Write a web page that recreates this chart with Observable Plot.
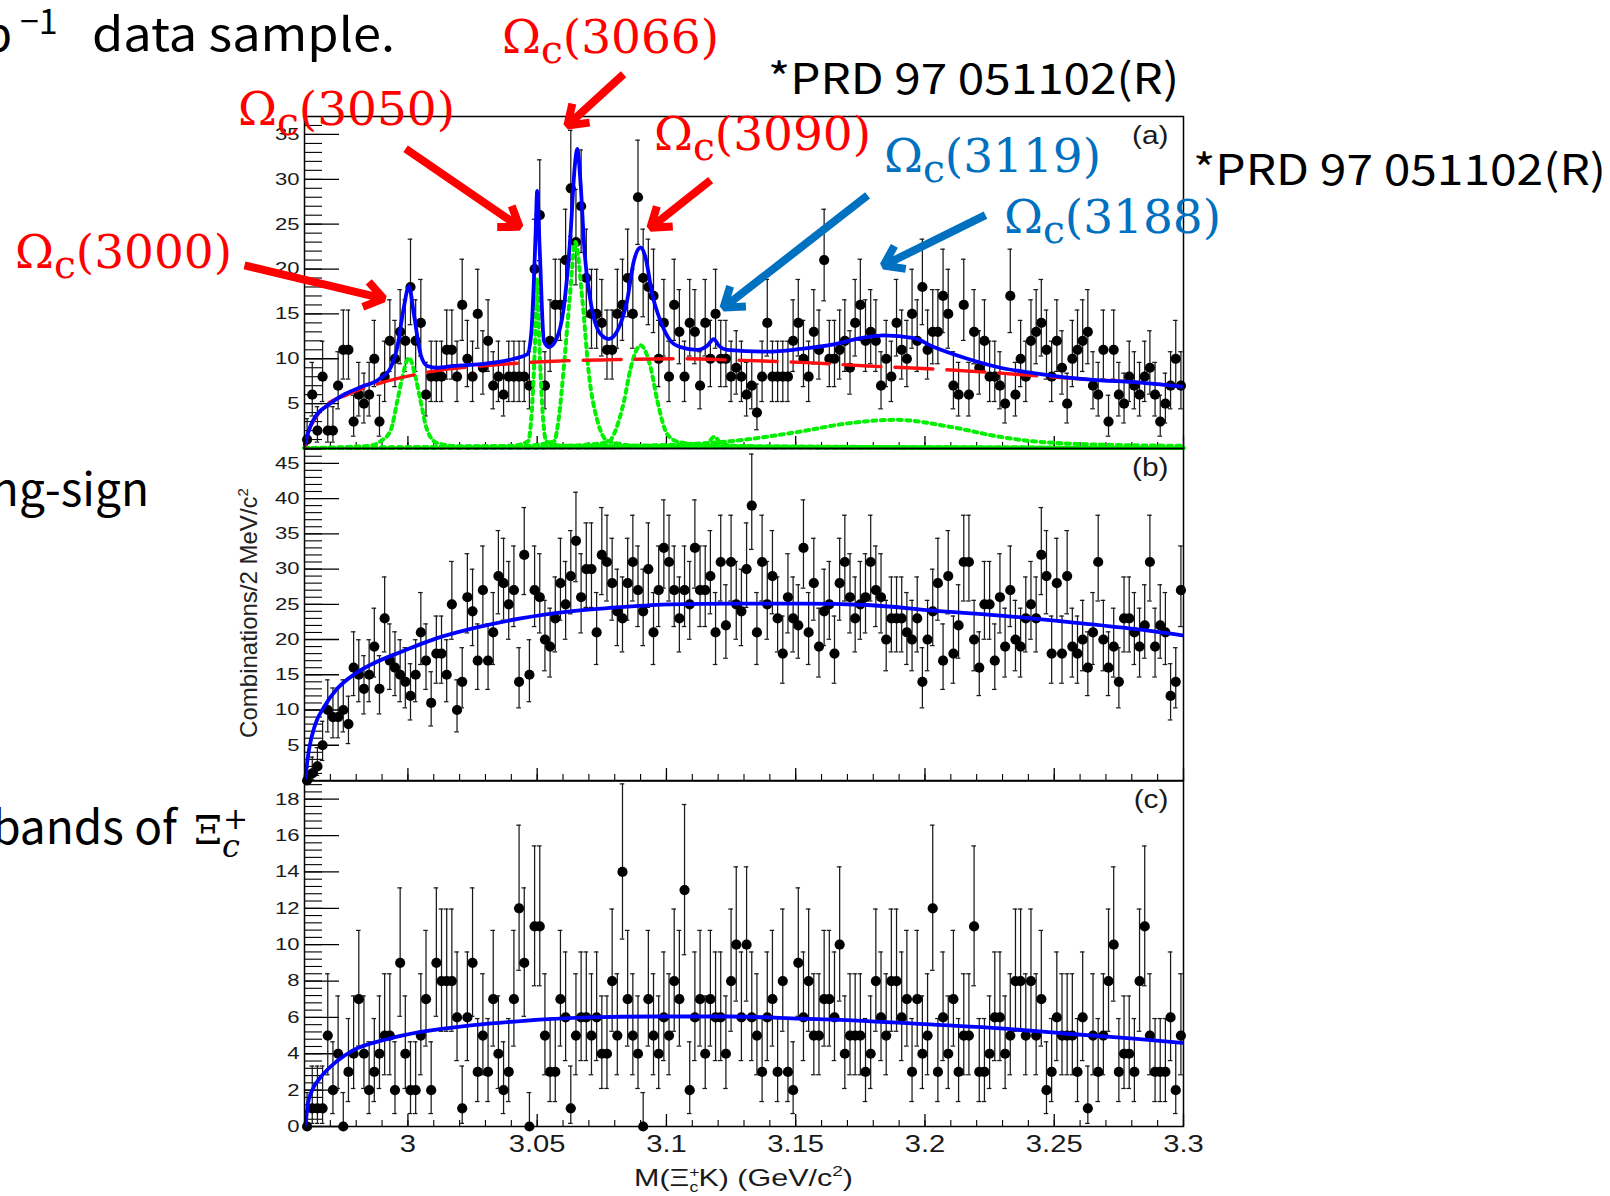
<!DOCTYPE html>
<html><head><meta charset="utf-8">
<script src="https://cdn.jsdelivr.net/npm/d3@7"></script>
<script src="https://cdn.jsdelivr.net/npm/@observablehq/plot@0.6"></script>
<style>
html,body{margin:0;padding:0;background:#fff;}
#wrap{position:relative;width:1610px;height:1196px;overflow:hidden;background:#fff;}
#wrap svg{position:absolute;left:0;}
</style></head>
<body><div id="wrap"></div>
<script>
// ---------- histogram binning ----------
const X0 = 2.96, BIN = 0.002;

// ---------- panel (a): right-sign M(Xi_c+ K-) ----------
const countsA = [
 1,6,2,8,2,2,7,11,11,3,
 6,5,6,10,3,8,12,10,13,12,
 18,12,14,6,8,8,8,11,11,8,
 16,10,8,15,9,12,7,8,6,8,
 8,8,8,7,20,26,7,12,16,16,
 21,29,23,27,19,15,15,14,11,11,
 15,16,19,15,28,19,18,17,10,14,
 8,16,13,8,14,13,7,14,10,15,
 10,10,8,9,8,6,7,4,8,14,
 8,8,8,8,12,14,10,8,13,11,
 21,10,10,11,12,9,14,16,12,13,
 12,7,10,8,14,11,10,15,12,18,
 11,13,13,17,15,7,6,16,6,13,
 9,12,8,8,7,5,17,6,10,8,
 12,13,14,11,8,12,9,5,10,11,
 12,13,7,6,11,3,11,6,5,8,
 7,6,8,9,6,3,5,7,10,7
];
// ---------- panel (b): wrong-sign ----------
const countsB = [
 0,1,2,5,10,9,9,10,8,16,
 15,13,15,19,13,23,17,16,15,14,
 12,15,21,17,11,18,18,15,25,10,
 14,26,24,17,27,17,21,29,28,25,
 27,14,32,15,27,26,20,19,23,28,
 25,29,34,26,30,30,21,32,31,28,
 24,23,28,31,27,24,30,21,27,33,
 31,27,23,27,25,33,27,27,29,21,
 31,22,31,25,24,30,39,21,31,25,
 29,23,18,26,23,22,33,21,28,19,
 24,25,18,28,31,26,23,25,26,31,
 27,26,20,23,23,23,21,20,23,14,
 20,24,28,17,29,18,22,31,31,20,
 16,25,25,17,26,19,27,20,19,23,
 25,23,32,29,18,28,18,29,19,18,
 20,16,21,31,20,16,19,14,23,23,
 21,19,22,31,19,22,21,12,14,27
];
// ---------- panel (c): Xi_c sidebands ----------
const countsC = [
 0,1,1,1,5,2,4,0,3,4,
 7,4,2,3,4,5,5,2,9,4,
 2,2,5,7,2,9,8,8,8,6,
 1,6,9,3,5,3,7,4,2,3,
 7,12,9,0,11,11,5,3,3,7,
 6,1,5,6,6,5,6,4,4,8,
 5,14,7,5,4,0,7,5,4,6,
 5,8,7,13,2,6,7,4,7,6,
 6,4,8,10,6,10,6,5,3,6,
 7,3,8,3,2,9,6,8,5,5,
 7,7,6,10,4,5,5,5,3,4,
 8,6,5,8,8,6,7,3,7,4,
 5,12,3,6,4,7,3,5,5,11,
 3,3,4,6,6,4,5,8,8,5,
 8,5,7,2,3,6,5,5,5,3,
 6,1,5,3,5,8,10,3,4,4,
 3,8,11,5,3,3,3,6,2,5
];

// ---------- fit curves: [mass GeV, combinations] ----------
const fitTotalA = [[2.9601,0.5],[2.9623,2.5],[2.9643,3.6],[2.9694,4.9],[2.9758,6.1],[2.9823,6.9],[2.9887,7.7],[2.9933,9.0],[2.9959,11.3],[2.9984,15.7],[3.0004,18.1],[3.0023,15.0],[3.0049,10.5],[3.0075,9.2],[3.0114,9.0],[3.0178,9.2],[3.0282,9.4],[3.041,10.0],[3.0462,10.5],[3.0477,12.8],[3.0494,23.9],[3.05,28.7],[3.051,22],[3.0526,12.0],[3.0545,11.3],[3.0571,12.0],[3.0603,15.7],[3.0629,23.9],[3.0645,31.3],[3.0655,33.4],[3.0668,29.5],[3.0683,22.0],[3.0706,16.5],[3.0745,12.75],[3.0777,12.2],[3.081,13.1],[3.0848,16.5],[3.0874,20.9],[3.09,22.4],[3.0919,21.3],[3.0945,17.2],[3.0977,14.2],[3.1016,12.0],[3.1055,11.3],[3.1119,11.0],[3.1158,11.45],[3.1183,12.2],[3.1203,11.45],[3.1235,11.0],[3.139,10.8],[3.1519,11.1],[3.1648,11.6],[3.1751,12.3],[3.1841,12.6],[3.1957,12.3],[3.2034,11.3],[3.2164,10.0],[3.2292,9.0],[3.2421,8.4],[3.255,7.9],[3.2679,7.6],[3.2808,7.4],[3.2995,6.9]];
const bkgA = [[2.9600,0.1],[2.9617,2.0],[2.9636,3.1],[2.9675,4.6],[2.9765,6.0],[2.9894,7.3],[3.0023,8.2],[3.0152,8.85],[3.0282,9.2],[3.054,9.7],[3.0797,9.9],[3.1055,10.0],[3.1261,9.85],[3.1519,9.6],[3.1777,9.2],[3.2034,8.85],[3.2292,8.4],[3.255,7.85],[3.2808,7.4],[3.2995,6.9]];
const sig3000 = [[2.96,0.05],[2.985,0.3],[2.9894,0.8],[2.9933,2],[2.9959,5.3],[2.9978,7.9],[3.0004,10.1],[3.003,7.9],[3.0049,5.3],[3.0075,2],[3.0114,0.6],[3.02,0.25],[3.3,0.05]];
const sig3050 = [[2.96,0.05],[3.04,0.3],[3.0465,0.8],[3.0481,5],[3.0492,12],[3.05,19],[3.0508,12],[3.0519,5],[3.0535,0.8],[3.06,0.3],[3.3,0.05]];
const sig3066 = [[2.96,0.05],[3.045,0.3],[3.0565,0.8],[3.0584,3.5],[3.0603,9],[3.0625,16.5],[3.0648,23],[3.0675,16.5],[3.07,8.3],[3.0733,3.1],[3.0775,0.8],[3.09,0.3],[3.3,0.05]];
const sig3090 = [[2.96,0.05],[3.06,0.3],[3.0775,0.7],[3.0797,1.6],[3.0836,5.3],[3.0862,9],[3.09,11.5],[3.0939,9],[3.0965,5.3],[3.1003,1.6],[3.105,0.7],[3.12,0.3],[3.3,0.05]];
const sig3119 = [[2.96,0.05],[3.10,0.15],[3.1155,0.5],[3.1185,1.3],[3.1215,0.5],[3.135,0.15],[3.3,0.05]];
const sig3188 = [[2.96,0.05],[3.06,0.2],[3.10,0.4],[3.126,0.85],[3.152,1.9],[3.17,2.8],[3.189,3.2],[3.21,2.4],[3.229,1.3],[3.242,0.8],[3.26,0.5],[3.30,0.3]];
const fitB = [[2.9603,0.3],[2.9617,4.3],[2.9642,8.0],[2.9675,10.4],[2.9726,13.0],[2.979,15.0],[2.9855,16.4],[2.9984,18.4],[3.0113,20.2],[3.0242,21.5],[3.0436,23.0],[3.0629,24.0],[3.0822,24.6],[3.1016,25.0],[3.1248,25.1],[3.1519,25.1],[3.1777,24.9],[3.2034,24.1],[3.2292,23.4],[3.255,22.5],[3.2808,21.5],[3.2995,20.6]];
const fitC = [[2.9604,0.05],[2.9613,1.25],[2.963,2.0],[2.9662,2.7],[2.9726,3.6],[2.979,4.2],[2.9919,4.8],[3.0049,5.2],[3.0242,5.56],[3.0436,5.8],[3.0694,6.0],[3.0951,6.05],[3.1248,6.05],[3.1519,5.93],[3.1777,5.8],[3.2034,5.6],[3.2292,5.4],[3.255,5.1],[3.2808,4.83],[3.2995,4.6]];

// ---------- ticks ----------
const xMajorTicks = [3, 3.05, 3.1, 3.15, 3.2, 3.25, 3.3];
const yLabelsA = [5, 10, 15, 20, 25, 30, 35];
const yLabelsB = [5, 10, 15, 20, 25, 30, 35, 40, 45];
const yLabelsC = [0, 2, 4, 6, 8, 10, 12, 14, 16, 18];

// ---------- annotations (state names, arrow tail -> tip in panel (a) data units) ----------
const annotations = [
  {state: "3000", color: "#ff0000", x1: 2.9368, y1: 20.4, x2: 2.9906, y2: 16.7},
  {state: "3050", color: "#ff0000", x1: 2.9991, y1: 33.4, x2: 3.0432, y2: 24.7},
  {state: "3066", color: "#ff0000", x1: 3.0834, y1: 41.7, x2: 3.0617, y2: 36.0},
  {state: "3090", color: "#ff0000", x1: 3.1171, y1: 29.9, x2: 3.0938, y2: 24.6},
  {state: "3119", color: "#0070c0", x1: 3.1778, y1: 28.2, x2: 3.1221, y2: 15.7},
  {state: "3188", color: "#0070c0", x1: 3.2234, y1: 26.0, x2: 3.1840, y2: 20.4}
];
const labelPos = {"3000": [15, 268], "3050": [238, 125], "3066": [502, 53], "3090": [654, 150], "3119": [884, 172], "3188": [1004, 233]};

// ---------- helpers ----------
const errLo = n => n <= 0 ? 0 : n * Math.pow(1 - 1 / (9 * n) - 1 / (3 * Math.sqrt(n)), 3);
const errHi = n => n + Math.sqrt(n + 0.75) + 1;
const toRows = counts => counts.map((n, i) => ({
  x: X0 + BIN * (i + 0.5), xa: X0 + BIN * i, xb: X0 + BIN * (i + 1), n, lo: errLo(n), hi: errHi(n)
}));
const W = 1610, ML = 304, MR = 427, innerW = W - ML - MR;
const FONT = "'Liberation Sans', Arial, Helvetica, sans-serif";
const xMinor = d3.range(0, 35).map(i => +(X0 + 0.01 * i).toFixed(3));
const wrap = document.getElementById("wrap");

// the reference's ROOT fonts are drawn horizontally wider than their height suggests
function widen(nodes, s) {
  nodes.forEach(t => {
    const x = parseFloat(t.getAttribute("x")) || 0;
    const tr = t.getAttribute("transform") || "";
    t.setAttribute("transform", `${tr} translate(${x},0) scale(${s},1) translate(${-x},0)`);
  });
}

function makePanel(cfg) {
  const innerH = cfg.height - cfg.mt - cfg.mb;
  const rows = toRows(cfg.counts);
  const line = (data, opts) => Plot.line(data, {x: d => d[0], y: d => d[1], curve: "monotone-x", ...opts});
  const marks = [
    Plot.tickY(cfg.yMinor, {y: d => d, insetRight: innerW - 18, stroke: "#000", strokeWidth: 1.1}),
    Plot.tickY(cfg.yLabels, {y: d => d, insetRight: innerW - 35, stroke: "#000", strokeWidth: 1.3}),
    Plot.tickX(xMinor, {x: d => d, insetTop: innerH - 6, stroke: "#000", strokeWidth: 1.1}),
    Plot.tickX(xMajorTicks, {x: d => d, insetTop: innerH - 12, stroke: "#000", strokeWidth: 1.3}),
    Plot.axisY(cfg.yLabels, {tickSize: 0, tickPadding: 5, fontSize: 17, label: null, tickFormat: d => String(d)}),
    Plot.ruleX(rows, {x: "x", y1: "lo", y2: "hi", stroke: "#1a1a1a", strokeWidth: 1.25}),
    Plot.ruleY(rows, {y: "hi", x1: "xa", x2: "xb", insetLeft: 0.3, insetRight: 0.3, stroke: "#1a1a1a", strokeWidth: 1.25}),
    Plot.ruleY(rows.filter(d => d.n > 0), {y: "lo", x1: "xa", x2: "xb", insetLeft: 0.3, insetRight: 0.3, stroke: "#1a1a1a", strokeWidth: 1.25}),
    Plot.dot(rows, {x: "x", y: "n", r: 5.1, fill: "#000", stroke: null}),
    ...(cfg.greens || []).map(g => line(g, {stroke: "#00f000", strokeWidth: 4, strokeDasharray: "4,4.5"})),
    ...(cfg.reds || []).map(g => line(g, {stroke: "#ff1010", strokeWidth: 3.4, strokeDasharray: "38,14"})),
    ...(cfg.blues || []).map(g => line(g, {stroke: "#0000ff", strokeWidth: 3.8})),
    Plot.frame({stroke: "#000", strokeWidth: 1.5}),
    Plot.text([cfg.tag], {frameAnchor: "top-right", dx: -15, dy: 9, lineAnchor: "top", textAnchor: "end", fontSize: 26, fill: "#1a1a1a"})
  ];
  if (cfg.xLabels) {
    marks.push(Plot.axisX(xMajorTicks, {tickSize: 0, tickPadding: 9, fontSize: 23, label: null, tickFormat: d => String(+d.toFixed(2))}));
  }
  if (cfg.extra) marks.push(...cfg.extra);
  const svg = Plot.plot({
    width: W, height: cfg.height,
    marginLeft: ML, marginRight: MR, marginTop: cfg.mt, marginBottom: cfg.mb,
    x: {domain: [2.96, 3.30], axis: cfg.xLabels ? undefined : null},
    y: {domain: [0, cfg.yMax]},
    style: {background: "none", overflow: "visible", fontFamily: FONT, color: "#1a1a1a"},
    marks
  });
  svg.style.top = cfg.top + "px";
  widen(svg.querySelectorAll('g[aria-label="y-axis tick label"] text'), 1.3);
  widen(svg.querySelectorAll('g[aria-label="x-axis tick label"] text'), 1.27);
  widen(svg.querySelectorAll('g[aria-label="text"] text'), 1.15);
  wrap.appendChild(svg);
}

// panel (a)
makePanel({
  counts: countsA, yMax: 37, top: 0, height: 460, mt: 116, mb: 12,
  yLabels: yLabelsA, yMinor: d3.range(1, 37), tag: "(a)",
  greens: [sig3000, sig3050, sig3066, sig3090, sig3119, sig3188],
  reds: [bkgA], blues: [fitTotalA],
  extra: [
    Plot.arrow(annotations, {x1: "x1", y1: "y1", x2: "x2", y2: "y2", stroke: "color", strokeWidth: 8, headLength: 4.2, headAngle: 70, strokeLinejoin: "miter", strokeLinecap: "butt"})
  ]
});
// panel (b)
makePanel({
  counts: countsB, yMax: 47.1, top: 438, height: 352, mt: 10, mb: 10,
  yLabels: yLabelsB, yMinor: d3.range(1, 48), tag: "(b)",
  blues: [fitB]
});
// panel (c)
makePanel({
  counts: countsC, yMax: 19, top: 770, height: 426, mt: 10.5, mb: 70,
  yLabels: yLabelsC, yMinor: d3.range(0, 48).map(i => +(0.4 * i).toFixed(1)), tag: "(c)",
  blues: [fitC], xLabels: true
});

// ---------- overlay text (titles, slide text, state labels) ----------
const ov = d3.select(wrap).append("svg").attr("width", W).attr("height", 1196)
  .style("top", "0px").style("pointer-events", "none");

// axis titles
const xt = ov.append("text").attr("transform", "translate(634,1186) scale(1.27,1)").attr("font-family", FONT).attr("font-size", 24).attr("fill", "#1a1a1a");
xt.append("tspan").text("M(Ξ");
xt.append("tspan").attr("dy", -9).attr("font-size", 14).text("+");
xt.append("tspan").attr("dx", -8).attr("dy", 15).attr("font-size", 14).text("c");
xt.append("tspan").attr("dy", -6).text("K) (GeV/c");
xt.append("tspan").attr("dy", -10).attr("font-size", 15).text("2");
xt.append("tspan").attr("dy", 10).text(")");

const yt = ov.append("text").attr("transform", "translate(257,613) rotate(-90)").attr("text-anchor", "middle")
  .attr("font-family", FONT).attr("font-size", 24).attr("fill", "#222");
yt.append("tspan").text("Combinations/2 MeV/c");
yt.append("tspan").attr("dy", -9).attr("font-size", 15).text("2");

// slide text
const SLIDE = "'Noto Sans CJK KR', 'Noto Sans', sans-serif";
ov.append("text").attr("x", 12).attr("y", 51).attr("text-anchor", "end").attr("font-family", SLIDE).attr("font-size", 46).text("b");
ov.append("text").attr("x", 20).attr("y", 34).attr("font-family", SLIDE).attr("font-size", 34).text("−1");
ov.append("text").attr("x", 92).attr("y", 51).attr("font-family", SLIDE).attr("font-size", 46)
  .attr("textLength", 303).attr("lengthAdjust", "spacingAndGlyphs").text("data sample.");
ov.append("text").attr("x", 768).attr("y", 94).attr("font-family", SLIDE).attr("font-size", 42)
  .attr("textLength", 411).attr("lengthAdjust", "spacingAndGlyphs").text("*PRD 97 051102(R)");
ov.append("text").attr("x", 1193).attr("y", 185).attr("font-family", SLIDE).attr("font-size", 42)
  .attr("textLength", 413).attr("lengthAdjust", "spacingAndGlyphs").text("*PRD 97 051102(R)");
ov.append("text").attr("x", 149).attr("y", 506).attr("text-anchor", "end").attr("font-family", SLIDE).attr("font-size", 46).text("ng-sign");
ov.append("text").attr("x", 177).attr("y", 844).attr("text-anchor", "end").attr("font-family", SLIDE).attr("font-size", 46).text("bands of");
ov.append("text").attr("x", 194).attr("y", 844).attr("font-family", "'DejaVu Serif', serif").attr("font-size", 40).text("Ξ");
ov.append("text").attr("x", 223).attr("y", 829).attr("font-family", "'DejaVu Serif', serif").attr("font-size", 30).text("+");
ov.append("text").attr("x", 222).attr("y", 857).attr("font-family", "'DejaVu Serif', serif").attr("font-style", "italic").attr("font-size", 32).text("c");

// state labels
for (const a of annotations) {
  const [lx, ly] = labelPos[a.state];
  const t = ov.append("text").attr("x", lx).attr("y", ly).attr("fill", a.color)
    .attr("font-family", "'DejaVu Serif', serif").attr("font-size", 47);
  t.append("tspan").text("Ω");
  t.append("tspan").attr("dy", 10).attr("font-size", 39).text("c");
  t.append("tspan").attr("dy", -10).text(`(${a.state})`);
}
</script>
</body></html>
